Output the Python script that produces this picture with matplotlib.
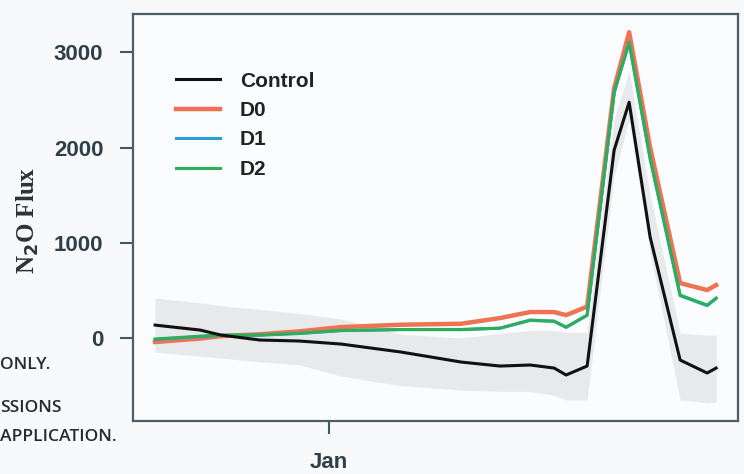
import numpy as np
import matplotlib
matplotlib.use("Agg")
import matplotlib.pyplot as plt

# days relative to 1 January
days = [-58, -43, -36, -23, -10, 4, 24, 44, 57, 67, 75, 79, 86, 95, 100, 107, 117, 126, 129]

control = [136, 84, 31, -21, -31, -63, -147, -252, -294, -283, -315, -388, -294,
           1973, 2476, 1060, -231, -367, -315]
d0 = [-42, -5, 20, 40, 70, 115, 140, 150, 210, 273, 273, 241, 330,
      2623, 3211, 2000, 577, 504, 556]
d1 = [-15, 15, 28, 31, 48, 78, 88, 88, 103, 185, 175, 112, 238,
      2575, 3100, 1880, 445, 340, 415]
d2 = [-10, 20, 31, 31, 50, 80, 90, 90, 105, 189, 178, 115, 241,
      2581, 3106, 1890, 451, 346, 420]

band_hi = [420, 370, 340, 300, 260, 200, 40, 0, 50, 80, 80, 60, 60,
           2300, 2800, 1500, 50, 30, 30]
band_lo = [-147, -190, -210, -250, -280, -400, -500, -545, -560, -560, -600, -650, -650,
           1700, 2300, 900, -650, -680, -670]

plt.rcParams['font.family'] = ['Liberation Sans', 'DejaVu Sans']

fig = plt.figure(figsize=(7.44, 4.74), dpi=100, facecolor='#f8f9fb')
ax = fig.add_axes([0.179, 0.112, 0.813, 0.858])
ax.set_facecolor('#fbfcfd')

ax.fill_between(days, band_lo, band_hi, color='#e7e9eb', lw=0)
ax.plot(days, d0, color='#ee7354', lw=3.2, label='D0')
ax.plot(days, d1, color='#2a9fd6', lw=2.2, label='D1')
ax.plot(days, d2, color='#2fae5a', lw=2.2, label='D2')
ax.plot(days, control, color='#111111', lw=2.2, label='Control')

ax.set_xlim(-65.3, 136.3)
ax.set_ylim(-870, 3400)
ax.set_yticks([0, 1000, 2000, 3000])
ax.set_xticks([0])
ax.set_xticklabels(['Jan'])
ax.tick_params(axis='both', length=9.5, width=1.5, color='#3f5862',
               labelsize=16, labelcolor='#2d3f47')
ax.tick_params(axis='y', pad=12)
ax.tick_params(axis='x', pad=13)
for t in ax.get_xticklabels() + ax.get_yticklabels():
    t.set_fontweight('bold')
for s in ax.spines.values():
    s.set_color('#4a5f68')
    s.set_linewidth(1.6)

ax.set_ylabel(r'N$_\mathbf{2}$O Flux', family='Liberation Serif', fontsize=18,
              fontweight='bold', color='#2a3338')
ax.yaxis.set_label_coords(-0.152, 0.494)

h, l = ax.get_legend_handles_labels()
order = [3, 0, 1, 2]
leg = ax.legend([h[i] for i in order], [l[i] for i in order], loc='upper left',
                bbox_to_anchor=(0.04, 0.905), frameon=False, fontsize=15,
                handlelength=2.1, handletextpad=0.95, labelspacing=0.5)
for t in leg.get_texts():
    t.set_fontweight('bold')
    t.set_color('#222222')

# leftover page text at the left edge
for y, s in [(365, 'ONLY.'), (408, 'SSIONS'), (437, 'APPLICATION.')]:
    fig.text(0.0, 1 - y / 474, s, fontsize=12.6, color='#2a2a2a', va='center',
             ha='left', family='Open Sans', fontweight='semibold')

fig.savefig('out.png', dpi=100, facecolor=fig.get_facecolor())
